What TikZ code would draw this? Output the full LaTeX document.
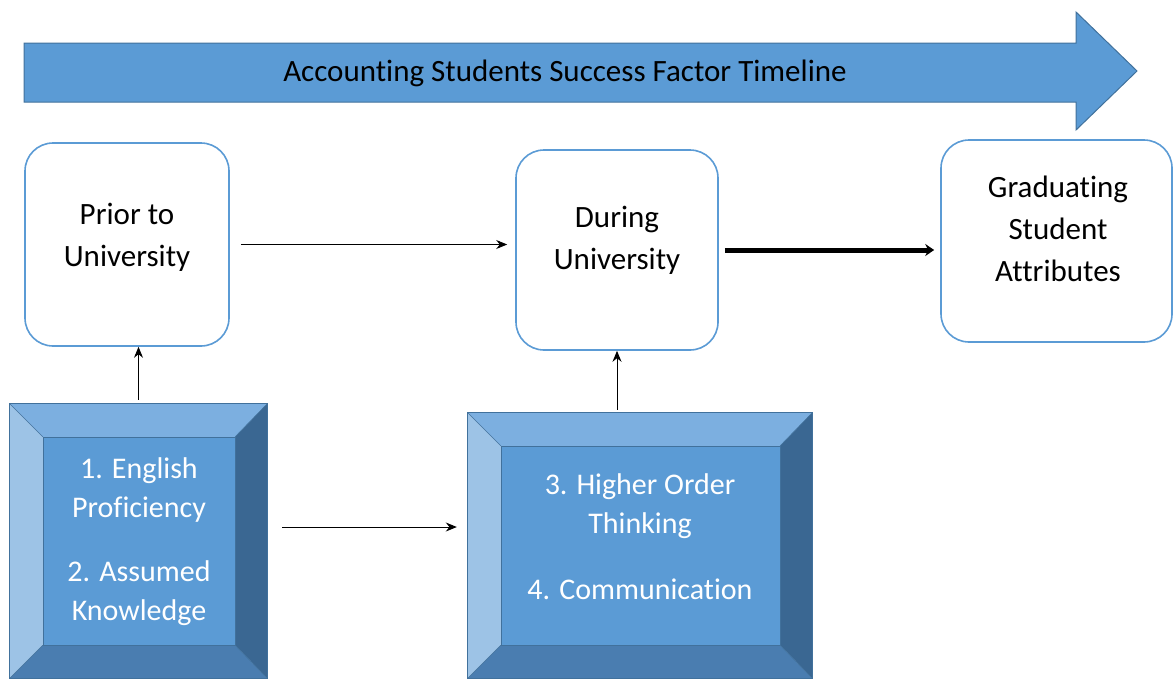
\documentclass[tikz,border=0pt]{standalone}
\usepackage{fontspec}
\setmainfont{Carlito}[Ligatures={NoCommon,NoRequired,NoContextual}]
\usetikzlibrary{arrows.meta,calc}
\definecolor{mainblue}{HTML}{5B9BD5}
\definecolor{bordblue}{HTML}{41719C}
\definecolor{toptone}{HTML}{7CAFE0}
\definecolor{lefttone}{HTML}{9DC3E6}
\definecolor{righttone}{HTML}{3A6792}
\definecolor{bottone}{HTML}{4A7DB0}
\tikzset{
  rbox/.style={draw=mainblue, line width=1.6pt, fill=white, rounded corners=28pt},
  rtext/.style={align=center, text=black, font=\fontsize{31}{42}\selectfont},
  bevbox/.style={inner sep=0pt},
  bevtext/.style={align=center, text=white, font=\fontsize{30}{39}\selectfont},
  conn/.style={-{Stealth[length=11pt,width=9pt]}, line width=1pt, black},
  thickconn/.style={-{Stealth[length=9pt,width=12pt]}, line width=5pt, black},
}
\newcommand\bevelbox[1]{%
  \coordinate (#1-a) at (#1.north west);
  \coordinate (#1-b) at (#1.north east);
  \coordinate (#1-c) at (#1.south east);
  \coordinate (#1-d) at (#1.south west);
  \coordinate (#1-ia) at ($(#1-a)+(33,33)$);
  \coordinate (#1-ib) at ($(#1-b)+(-32,33)$);
  \coordinate (#1-ic) at ($(#1-c)+(-32,-33)$);
  \coordinate (#1-id) at ($(#1-d)+(33,-33)$);
  \fill[toptone] (#1-a) -- (#1-b) -- (#1-ib) -- (#1-ia) -- cycle;
  \fill[lefttone] (#1-a) -- (#1-ia) -- (#1-id) -- (#1-d) -- cycle;
  \fill[righttone] (#1-b) -- (#1-c) -- (#1-ic) -- (#1-ib) -- cycle;
  \fill[bottone] (#1-d) -- (#1-id) -- (#1-ic) -- (#1-c) -- cycle;
  \fill[mainblue] (#1-ia) rectangle (#1-ic);
  \draw[bordblue, line width=0.6pt] (#1-a) -- (#1-ia) (#1-b) -- (#1-ib) (#1-c) -- (#1-ic) (#1-d) -- (#1-id);
  \draw[bordblue, line width=0.6pt] (#1-ia) rectangle (#1-ic);
  \draw[bordblue, line width=1.2pt] (#1-a) rectangle (#1-c);
}
\begin{document}
\begin{tikzpicture}[x=1pt,y=-1pt]
\useasboundingbox (0,0) rectangle (1174,678);
% timeline arrow
\fill[mainblue, draw=bordblue, line width=1pt] (24,43) -- (1076,43) -- (1076,12) -- (1137,71) -- (1076,130) -- (1076,102) -- (24,102) -- cycle;
\node[font=\fontsize{31}{36}\selectfont] (title) at (565,73) {Accounting Students Success Factor Timeline};
% rounded boxes
\node[rbox, minimum width=204pt, minimum height=203pt] (prior) at (127,244.5) {};
\node[rbox, minimum width=202pt, minimum height=200pt] (during) at (617,250) {};
\node[rbox, minimum width=231pt, minimum height=202pt] (grad) at (1056.5,241) {};
\node[rtext] (priortxt) at (127,237.5) {Prior to\\University};
\node[rtext] (duringtxt) at (617,240.5) {During\\University};
\node[rtext] (gradtxt) at (1058,229) {Graduating\\Student\\Attributes};
% bevel boxes
\node[bevbox, minimum width=257pt, minimum height=274pt] (bev1) at (138.5,541) {};
\node[bevbox, minimum width=344pt, minimum height=265pt] (bev2) at (640,545.5) {};
\bevelbox{bev1}
\bevelbox{bev2}
\node[bevtext] (bev1txt) at (139,542) {1. English\\Proficiency\\[25pt]2. Assumed\\Knowledge};
\node[bevtext] (bev2txt) at (640,536.5) {3. Higher Order\\Thinking\\[27pt]4. Communication};
% connectors
\draw[conn, shorten <=11pt, shorten >=8pt] (prior.east) -- (prior.east -| during.west);
\draw[thickconn, shorten <=6pt, shorten >=6pt] (during.east) -- (during.east -| grad.west);
\draw[conn, shorten <=4pt] (bev1.north) -- (bev1.north |- prior.south);
\draw[conn, shorten <=3pt] (during.south |- bev2.north) -- (during.south);
\draw[conn, shorten <=15pt, shorten >=11pt] ([yshift=14pt]bev1.east) -- ([yshift=14pt]bev1.east -| bev2.west);
\end{tikzpicture}
\end{document}
